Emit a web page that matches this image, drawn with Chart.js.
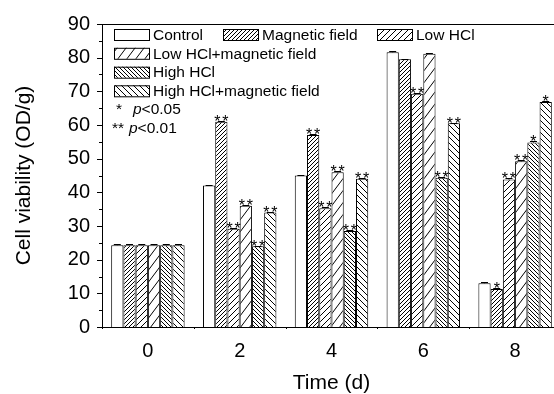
<!DOCTYPE html>
<html>
<head>
<meta charset="utf-8">
<script src="https://cdn.jsdelivr.net/npm/chart.js@4/dist/chart.umd.min.js"></script>
<style>
 html,body{margin:0;padding:0;background:#fff;overflow:hidden;}
 #wrap{width:554px;height:394px;overflow:hidden;}
</style>
</head>
<body>
<div id="wrap"><canvas id="c" width="562" height="394"></canvas></div>
<script>
// datos
const dias = ["0", "2", "4", "6", "8"];
const nombres = ["Control", "Magnetic field", "Low HCl", "Low HCl+magnetic field", "High HCl", "High HCl+magnetic field"];

const control    = [24.3, 42.0, 45.0, 81.6, 13.0];
const magnetico  = [24.3, 61.0, 57.0, 79.5, 11.3];
const hclBajo    = [24.3, 29.2, 35.3, 69.3, 43.8];
const hclBajoMag = [24.3, 36.0, 46.0, 81.2, 49.2];
const hclAlto    = [24.3, 24.0, 28.5, 44.3, 54.8];
const hclAltoMag = [24.3, 34.0, 44.0, 60.5, 66.8];

const errControl    = [0.5, 0.2, 0.2, 0.3, 0.5];
const errMagnetico  = [0.5, 0.2, 0.2, 0.2, 0.4];
const errHclBajo    = [0.5, 0.2, 0.2, 0.2, 0.4];
const errHclBajoMag = [0.5, 0.2, 0.2, 0.2, 0.4];
const errHclAlto    = [0.5, 0.2, 0.2, 0.2, 0.4];
const errHclAltoMag = [0.5, 0.2, 0.2, 0.2, 0.4];

const sigControl    = ["", "", "", "", ""];
const sigMagnetico  = ["", "**", "**", "", "*"];
const sigHclBajo    = ["", "**", "**", "**", "**"];
const sigHclBajoMag = ["", "**", "**", "", "**"];
const sigHclAlto    = ["", "**", "**", "**", "*"];
const sigHclAltoMag = ["", "**", "**", "**", "*"];

const tituloY = "Cell viability (OD/g)";
const tituloX = "Time (d)";

const FUENTE = "'Liberation Sans', Arial, sans-serif";

// rayados tipo origin
const tiles = [];
function rayado(w, h, dir){
  const c = document.createElement("canvas");
  c.width = w; c.height = h;
  tiles.push(c);
  const g = c.getContext("2d");
  g.fillStyle = "#fff"; g.fillRect(0, 0, w, h);
  if(dir !== 0){
    g.strokeStyle = "#000"; g.lineWidth = 1;
    g.beginPath();
    for(let k = -1; k <= 1; k++){
      if(dir > 0){ g.moveTo(k*w, h); g.lineTo(k*w + w, 0); }
      else { g.moveTo(k*w, 0); g.lineTo(k*w + w, h); }
    }
    g.stroke();
  }
  return g.createPattern(c, "repeat");
}

const formas = [[4, 4, 0], [4, 4, 1], [6, 6, 1], [9, 12, 1], [4, 4, -1], [6, 6, -1]];
const rellenos = formas.map(f => rayado(f[0], f[1], f[2]));
const rellenosLeyenda = formas.map(f => rayado(f[0], f[1], f[2]));

const series = [control, magnetico, hclBajo, hclBajoMag, hclAlto, hclAltoMag];
const errores = [errControl, errMagnetico, errHclBajo, errHclBajoMag, errHclAlto, errHclAltoMag];
const signif = [sigControl, sigMagnetico, sigHclBajo, sigHclBajoMag, sigHclAlto, sigHclAltoMag];

const datasets = series.map((d, i) => ({
  label: nombres[i],
  data: d,
  backgroundColor: rellenos[i],
  borderColor: "#000",
  borderWidth: 1,
  categoryPercentage: 0.8,
  barPercentage: 1.0
}));

// ejes, barras de error, asteriscos y leyenda
const extras = {
  id: "extras",
  afterDraw(chart){
    const ctx = chart.ctx;
    const y = chart.scales.y, x = chart.scales.x;
    const a = chart.chartArea;
    ctx.save();
    ctx.strokeStyle = "#000";
    ctx.lineWidth = 1;
    // barras de error
    datasets.forEach((ds, i) => {
      const meta = chart.getDatasetMeta(i);
      meta.data.forEach((bar, j) => {
        const v = series[i][j], e = errores[i][j];
        const yt = Math.round(y.getPixelForValue(v + e)) + 0.5;
        const yb = y.getPixelForValue(v);
        ctx.beginPath();
        ctx.moveTo(bar.x, yb); ctx.lineTo(bar.x, yt);
        ctx.moveTo(bar.x - 3.5, yt); ctx.lineTo(bar.x + 3.5, yt);
        ctx.stroke();
        const s = signif[i][j];
        if(s){
          ctx.fillStyle = "#000";
          ctx.font = "16px " + FUENTE;
          ctx.textAlign = "center";
          ctx.textBaseline = "alphabetic";
          const by = yt + 5;
          if(s === "*") ctx.fillText("*", bar.x, by);
          else { ctx.fillText("*", bar.x - 4, by); ctx.fillText("*", bar.x + 4, by); }
        }
      });
    });
    // marco superior
    ctx.beginPath();
    ctx.moveTo(a.left, a.top + 0.5); ctx.lineTo(a.right, a.top + 0.5);
    ctx.stroke();
    // ticks eje y
    for(let v = 0; v <= 90; v += 5){
      const py = Math.round(y.getPixelForValue(v)) + 0.5;
      const len = v % 10 === 0 ? 5 : 3;
      ctx.beginPath();
      ctx.moveTo(a.left - len, py); ctx.lineTo(a.left, py);
      ctx.stroke();
    }
    // ticks menores eje x
    const paso = x.getPixelForValue(1) - x.getPixelForValue(0);
    for(let k = 0; k <= dias.length; k++){
      const px = Math.round(x.getPixelForValue(0) - paso/2 + k*paso) + 0.5;
      ctx.beginPath();
      ctx.moveTo(px, a.bottom); ctx.lineTo(px, a.bottom + 2);
      ctx.stroke();
    }
    // leyenda
    const filas = [
      [[114, 34.5, 0], [223, 34.5, 1], [377, 34.5, 2]],
      [[114, 53.3, 3]],
      [[114, 72.2, 4]],
      [[114, 90.8, 5]]
    ];
    ctx.font = "15.5px " + FUENTE;
    ctx.textAlign = "left";
    ctx.textBaseline = "middle";
    filas.forEach(f => f.forEach(([lx, ly, i]) => {
      ctx.fillStyle = rellenosLeyenda[i];
      ctx.fillRect(lx, ly - 5.5, 35, 11);
      ctx.strokeRect(lx + 0.5, ly - 5.5 + 0.5, 35, 11);
      ctx.fillStyle = "#000";
      ctx.fillText(nombres[i], lx + 39, ly + 1);
    }));
    ctx.fillText("*", 116, 110);
    ctx.fillText("**", 112, 129);
    ctx.font = "italic 15.5px " + FUENTE;
    ctx.fillText("p", 133, 110);
    ctx.fillText("p", 129, 129);
    const wp = ctx.measureText("p").width;
    ctx.font = "15.5px " + FUENTE;
    ctx.fillText("<0.05", 133 + wp, 110);
    ctx.fillText("<0.01", 129 + wp, 129);
    // titulo eje y (girado, al final)
    ctx.translate(24.6, (a.top + a.bottom) / 2);
    ctx.rotate(-Math.PI / 2);
    ctx.font = "21px " + FUENTE;
    ctx.textAlign = "center";
    ctx.textBaseline = "middle";
    ctx.fillText(tituloY, 0, 0);
    ctx.restore();
  }
};

new Chart(document.getElementById("c"), {
  type: "bar",
  data: { labels: dias, datasets: datasets },
  options: {
    responsive: false,
    animation: false,
    layout: { padding: { top: 22, right: 1, left: 0, bottom: 0 } },
    plugins: { legend: { display: false }, tooltip: { enabled: false } },
    scales: {
      x: {
        offset: true,
        grid: { display: false, drawTicks: false },
        border: { display: true, color: "#000", width: 1 },
        ticks: { color: "#000", padding: 12, font: { family: FUENTE, size: 20 } },
        title: { display: true, text: tituloX, color: "#000", padding: 0, font: { family: FUENTE, size: 21, lineHeight: 1 } },
        afterFit: s => { s.height = 67; }
      },
      y: {
        min: 0, max: 90,
        grid: { display: false, drawTicks: false },
        border: { display: true, color: "#000", width: 1 },
        ticks: { stepSize: 10, color: "#000", padding: 12, font: { family: FUENTE, size: 20 } },
        afterFit: s => { s.width = 102; }
      }
    }
  },
  plugins: [extras]
});
</script>
</body>
</html>
